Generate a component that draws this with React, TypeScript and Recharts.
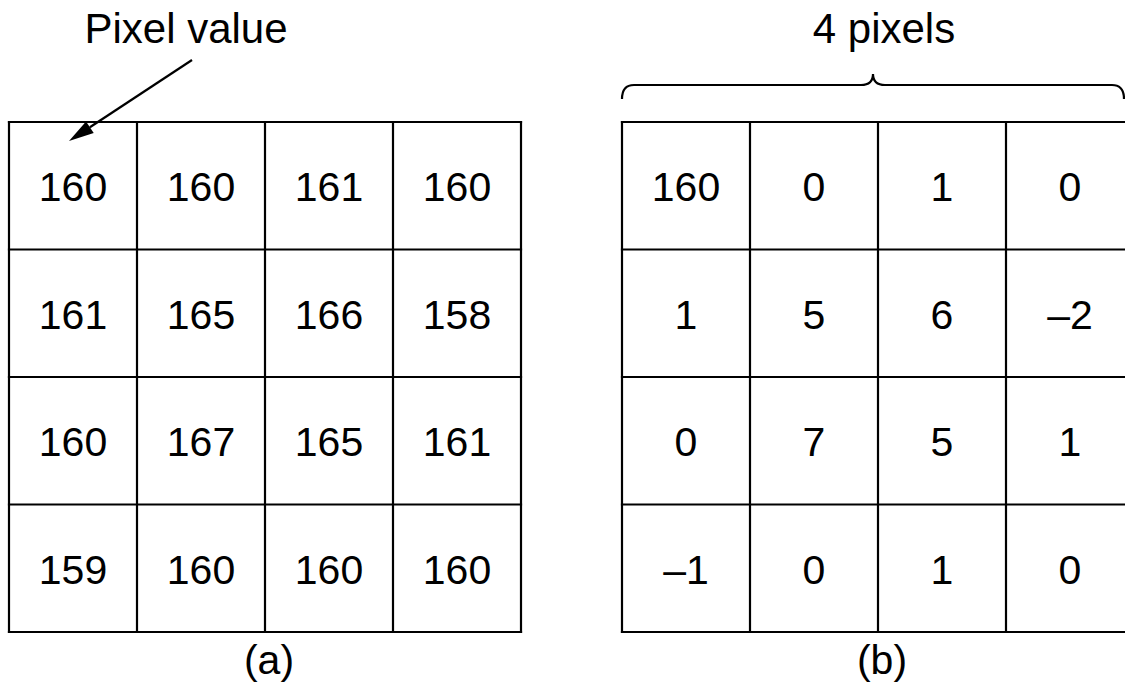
import React from "react";
import { ScatterChart, Scatter, XAxis, YAxis, ReferenceLine } from "recharts";

// ---- values ----
const pixelRow1 = [160, 160, 161, 160];
const pixelRow2 = [161, 165, 166, 158];
const pixelRow3 = [160, 167, 165, 161];
const pixelRow4 = [159, 160, 160, 160];

const diffRow1 = [160, 0, 1, 0];
const diffRow2 = [1, 5, 6, -2];
const diffRow3 = [0, 7, 5, 1];
const diffRow4 = [-1, 0, 1, 0];

const panelLabels = ["(a)", "(b)"];
const annotationLabels = ["Pixel value", "4 pixels"];

// ---- layout (pixel-like data space, 1125 x 687) ----
const W = 1125;
const H = 687;
const PANEL_LEFTS = [9, 622];
const GRID_TOP = 122;
const CELL_W = 128;
const CELL_H = 127.5;
const N = 4;
const FONT = "'Liberation Sans', Arial, Helvetica, sans-serif";
const NUM_SIZE = 41;
const LABEL_SIZE = 42;

const grids = [
  [pixelRow1, pixelRow2, pixelRow3, pixelRow4],
  [diffRow1, diffRow2, diffRow3, diffRow4],
];

const fmt = (v: number) => (v < 0 ? "\u2013" + Math.abs(v) : String(v));

type Pt = { x: number; y: number; text: string; size: number; base: number };

const cellPoints: Pt[] = grids.flatMap((rows, g) =>
  rows.flatMap((row, r) =>
    row.map((v, c) => ({
      x: PANEL_LEFTS[g] + (c + 0.5) * CELL_W,
      y: GRID_TOP + (r + 0.5) * CELL_H,
      text: fmt(v),
      size: NUM_SIZE,
      base: NUM_SIZE * 0.38,
    }))
  )
);

const gridRight = (g: number) => PANEL_LEFTS[g] + N * CELL_W;
const gridBottom = GRID_TOP + N * CELL_H;

const textPoints: Pt[] = [
  ...panelLabels.map((t, g) => ({
    x: (PANEL_LEFTS[g] + gridRight(g)) / 2 + 4,
    y: 674,
    text: t,
    size: LABEL_SIZE - 1,
    base: 0,
  })),
  { x: 186, y: 43, text: annotationLabels[0], size: LABEL_SIZE, base: 0 },
  { x: (PANEL_LEFTS[1] + gridRight(1)) / 2 + 6, y: 43, text: annotationLabels[1], size: LABEL_SIZE, base: 0 },
];

type Seg = { x1: number; y1: number; x2: number; y2: number };
const gridSegments: Seg[] = grids.flatMap((_, g) => {
  const left = PANEL_LEFTS[g];
  const right = gridRight(g);
  const segs: Seg[] = [];
  for (let i = 0; i <= N; i++) {
    const y = GRID_TOP + i * CELL_H;
    segs.push({ x1: left, y1: y, x2: right, y2: y });
    const x = left + i * CELL_W;
    segs.push({ x1: x, y1: GRID_TOP, x2: x, y2: gridBottom });
  }
  return segs;
});

const TextShape = (props: any) => {
  const { cx, cy, payload } = props;
  if (cx == null || cy == null || !payload) return <g />;
  return (
    <text
      x={cx}
      y={cy + payload.base}
      textAnchor="middle"
      fontFamily={FONT}
      fontSize={payload.size}
      fill="#000"
    >
      {payload.text}
    </text>
  );
};

const BraceShape = (props: any) => {
  const { x1, y1, x2 } = props;
  const xm = (x1 + x2) / 2;
  const r = 12;
  const drop = 14;
  const peak = 11;
  const d = [
    `M ${x1} ${y1 + drop}`,
    `Q ${x1} ${y1} ${x1 + r} ${y1}`,
    `L ${xm - r} ${y1}`,
    `Q ${xm} ${y1} ${xm} ${y1 - peak}`,
    `Q ${xm} ${y1} ${xm + r} ${y1}`,
    `L ${x2 - r} ${y1}`,
    `Q ${x2} ${y1} ${x2} ${y1 + drop}`,
  ].join(" ");
  return <path d={d} fill="none" stroke="#000" strokeWidth={2.2} />;
};

const ArrowShape = (props: any) => {
  const { x1, y1, x2, y2 } = props;
  const dx = x2 - x1;
  const dy = y2 - y1;
  const len = Math.sqrt(dx * dx + dy * dy) || 1;
  const ux = dx / len;
  const uy = dy / len;
  const headLen = 25;
  const headHalf = 7;
  const bx = x2 - ux * headLen;
  const by = y2 - uy * headLen;
  const px = -uy;
  const py = ux;
  return (
    <g>
      <line x1={x1} y1={y1} x2={bx} y2={by} stroke="#000" strokeWidth={2.2} />
      <polygon
        points={`${x2},${y2} ${bx + px * headHalf},${by + py * headHalf} ${bx - px * headHalf},${by - py * headHalf}`}
        fill="#000"
      />
    </g>
  );
};

export default function App() {
  return (
    <div style={{ position: "absolute", left: 0, top: 0, width: W, height: H, background: "#fff" }}>
      <ScatterChart width={W} height={H} margin={{ top: 0, right: 0, bottom: 0, left: 0 }}>
        <XAxis type="number" dataKey="x" domain={[0, W]} allowDataOverflow hide />
        <YAxis type="number" dataKey="y" domain={[0, H]} allowDataOverflow reversed hide />
        {gridSegments.map((s, i) => (
          <ReferenceLine
            key={"g" + i}
            segment={[
              { x: s.x1, y: s.y1 },
              { x: s.x2, y: s.y2 },
            ]}
            stroke="#000"
            strokeWidth={2.2}
            strokeLinecap="square"
            ifOverflow="visible"
          />
        ))}
        <ReferenceLine
          segment={[
            { x: PANEL_LEFTS[1], y: 85 },
            { x: W - 1, y: 85 },
          ]}
          ifOverflow="visible"
          shape={BraceShape}
        />
        <ReferenceLine
          segment={[
            { x: 192, y: 60 },
            { x: 69, y: 141 },
          ]}
          ifOverflow="visible"
          shape={ArrowShape}
        />
        <Scatter data={cellPoints} dataKey="y" shape={TextShape} isAnimationActive={false} />
        <Scatter data={textPoints} dataKey="y" shape={TextShape} isAnimationActive={false} />
      </ScatterChart>
    </div>
  );
}
